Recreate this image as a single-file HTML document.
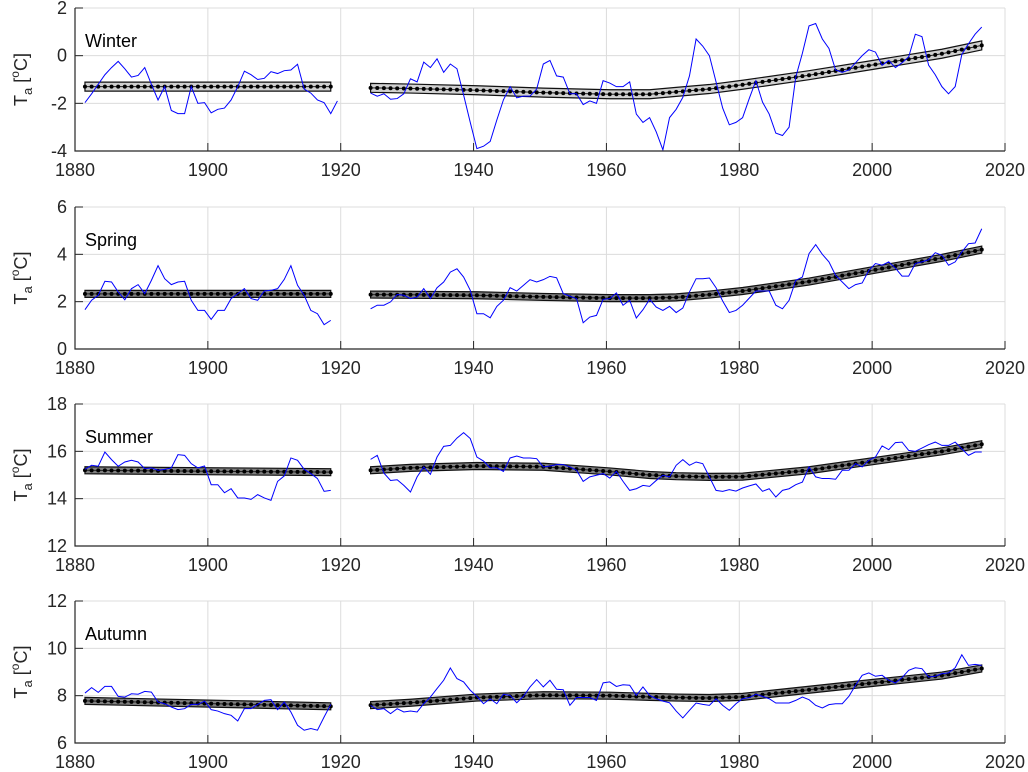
<!DOCTYPE html>
<html><head><meta charset="utf-8"><style>
html,body{margin:0;padding:0;background:#fff;}
svg{display:block;font-family:"Liberation Sans",sans-serif;}
</style></head><body>
<svg id="chart" width="1028" height="772" viewBox="0 0 1028 772" xmlns="http://www.w3.org/2000/svg"></svg>
<script>
const xTicks = [1880,1900,1920,1940,1960,1980,2000,2020];
const seasons = ["Winter","Spring","Summer","Autumn"];
const yTicksWinter = [2,0,-2,-4];
const yTicksSpring = [6,4,2,0];
const yTicksSummer = [18,16,14,12];
const yTicksAutumn = [12,10,8,6];
const seg1Start = 1881;
const seg2Start = 1924;
const winterA = [-1.97,-1.6,-1.2,-0.8,-0.5,-0.24,-0.55,-0.9,-0.83,-0.5,-1.2,-1.86,-1.3,-2.3,-2.43,-2.43,-1.3,-2.0,-1.97,-2.4,-2.25,-2.2,-1.86,-1.3,-0.65,-0.8,-1.0,-0.95,-0.67,-0.75,-0.63,-0.6,-0.36,-1.4,-1.57,-1.86,-1.97,-2.43,-1.9];
const winterB = [-1.57,-1.7,-1.6,-1.83,-1.8,-1.6,-0.97,-1.1,-0.27,-0.5,-0.13,-0.7,-0.35,-0.55,-1.65,-2.8,-3.9,-3.8,-3.6,-2.7,-1.85,-1.3,-1.77,-1.7,-1.7,-1.4,-0.35,-0.2,-0.85,-0.9,-1.6,-1.6,-2.05,-1.9,-2.0,-1.05,-1.15,-1.3,-1.3,-1.1,-2.45,-2.8,-2.6,-3.2,-3.95,-2.6,-2.25,-1.75,-0.85,0.7,0.4,0.0,-1.1,-2.2,-2.9,-2.8,-2.6,-1.8,-1.05,-1.95,-2.45,-3.25,-3.35,-3.0,-0.9,0.1,1.25,1.35,0.7,0.3,-0.6,-0.7,-0.6,-0.3,0.0,0.25,0.15,-0.4,-0.2,-0.5,-0.3,-0.05,0.9,0.8,-0.4,-0.8,-1.3,-1.6,-1.3,0.05,0.5,0.9,1.2];
const springA = [1.66,2.06,2.27,2.86,2.83,2.41,2.08,2.55,2.72,2.34,2.9,3.52,2.97,2.72,2.83,2.86,2.06,1.63,1.63,1.25,1.63,1.63,2.13,2.34,2.55,2.13,2.06,2.45,2.48,2.55,2.94,3.52,2.69,2.27,1.63,1.49,1.03,1.21];
const springB = [1.7,1.85,1.85,1.99,2.3,2.27,2.13,2.2,2.55,2.13,2.59,2.83,3.25,3.39,3.04,2.48,1.49,1.49,1.32,1.8,2.06,2.59,2.45,2.69,2.93,2.83,2.93,3.07,3.01,2.34,2.23,2.13,1.11,1.35,1.42,2.1,2.13,2.37,1.85,2.06,1.31,1.66,2.1,1.77,1.63,1.8,1.54,1.73,2.41,2.97,2.97,3.0,2.59,2.03,1.54,1.63,1.85,2.15,2.45,2.45,2.45,1.85,1.7,2.06,2.9,3.04,4.03,4.41,4.0,3.68,3.11,2.83,2.55,2.72,2.79,3.32,3.61,3.54,3.68,3.42,3.08,3.08,3.61,3.68,3.77,4.07,3.96,3.54,3.68,4.1,4.45,4.48,5.08];
const summerA = [15.24,15.41,15.37,15.97,15.65,15.37,15.55,15.62,15.55,15.27,15.3,15.2,15.24,15.3,15.86,15.83,15.48,15.3,15.38,14.59,14.59,14.25,14.42,14.03,14.03,13.97,14.17,14.03,13.93,14.73,14.96,15.72,15.62,15.24,15.06,14.85,14.31,14.35];
const summerB = [15.66,15.83,15.08,14.77,14.8,14.56,14.28,14.92,15.34,15.03,15.76,16.21,16.25,16.56,16.79,16.54,15.76,15.59,15.3,15.3,15.15,15.72,15.8,15.72,15.72,15.69,15.34,15.38,15.44,15.44,15.34,15.2,14.73,14.92,14.99,15.06,14.87,15.15,14.73,14.35,14.42,14.56,14.52,14.77,14.99,14.92,15.41,15.65,15.41,15.55,15.48,14.92,14.35,14.31,14.38,14.32,14.45,14.54,14.62,14.31,14.42,14.07,14.35,14.42,14.59,14.7,15.34,14.92,14.85,14.85,14.82,15.2,15.2,15.48,15.34,15.62,15.76,16.23,16.07,16.37,16.39,16.04,16.0,16.14,16.28,16.39,16.25,16.25,16.39,16.11,15.83,15.97,15.97];
const autumnA = [8.11,8.34,8.14,8.39,8.39,7.97,7.94,8.08,8.06,8.18,8.15,7.73,7.66,7.52,7.41,7.45,7.63,7.63,7.77,7.41,7.35,7.24,7.17,6.93,7.45,7.45,7.63,7.8,7.83,7.41,7.73,7.31,6.75,6.54,6.61,6.54,7.1,7.63];
const autumnB = [7.59,7.41,7.45,7.24,7.45,7.31,7.35,7.31,7.66,7.94,8.3,8.65,9.17,8.72,8.58,8.23,7.97,7.66,7.87,7.66,8.06,8.01,7.7,7.97,8.37,8.68,8.37,8.65,8.27,8.25,7.59,7.92,7.92,7.92,7.8,8.54,8.58,8.39,8.46,8.44,8.01,8.37,8.01,7.87,7.77,7.7,7.35,7.06,7.38,7.69,7.63,7.59,7.87,7.59,7.38,7.66,7.87,7.92,8.06,7.97,7.87,7.69,7.69,7.69,7.8,7.94,7.83,7.59,7.48,7.62,7.66,7.66,7.97,8.44,8.86,8.96,8.82,8.86,8.65,8.54,8.76,9.07,9.18,9.14,8.79,8.82,8.93,8.96,9.18,9.73,9.28,9.32,9.28];
const trendYearsA = [1881,1918];
const trendYearsB = [1924,1930,1940,1950,1960,1966,1970,1975,1980,1990,2000,2010,2016];
const winterTrendA = [-1.3,-1.3];
const winterTrendB = [-1.35,-1.38,-1.45,-1.55,-1.62,-1.62,-1.52,-1.4,-1.22,-0.82,-0.37,0.08,0.43];
const springTrendA = [2.33,2.33];
const springTrendB = [2.3,2.29,2.27,2.2,2.15,2.15,2.18,2.3,2.45,2.85,3.35,3.85,4.2];
const summerTrendA = [15.2,15.12];
const summerTrendB = [15.2,15.3,15.38,15.35,15.15,15.0,14.95,14.92,14.93,15.2,15.6,16.0,16.3];
const autumnTrendA = [7.78,7.55];
const autumnTrendB = [7.6,7.7,7.92,8.02,8.0,7.95,7.92,7.9,7.95,8.25,8.55,8.85,9.15];

const NS="http://www.w3.org/2000/svg";
const svg=document.getElementById('chart');
const X0=75,X1=1005;
function xs(y){return X0+(y-1880+0.5)/140*(X1-X0);}
function xt(y){return X0+(y-1880)/140*(X1-X0);}
function mk(tag,attrs,parent){const e=document.createElementNS(NS,tag);for(const k in attrs)e.setAttribute(k,attrs[k]);(parent||svg).appendChild(e);return e;}
const panels=[
 {top:8,bot:151,ticks:yTicksWinter,a:winterA,b:winterB,ta:winterTrendA,tb:winterTrendB,band:"#d0d0d0",hw:4.5},
 {top:207,bot:349,ticks:yTicksSpring,a:springA,b:springB,ta:springTrendA,tb:springTrendB,band:"#808080",hw:3.5},
 {top:404,bot:546,ticks:yTicksSummer,a:summerA,b:summerB,ta:summerTrendA,tb:summerTrendB,band:"#808080",hw:3.5},
 {top:601,bot:743,ticks:yTicksAutumn,a:autumnA,b:autumnB,ta:autumnTrendA,tb:autumnTrendB,band:"#808080",hw:3.5}];
panels.forEach((p,i)=>{
 const g=mk('g',{});
 
 
 const ymax=p.ticks[0],ymin=p.ticks[p.ticks.length-1];
 const ys=v=>p.bot-(v-ymin)/(ymax-ymin)*(p.bot-p.top);
 p.ticks.forEach(t=>{const l=mk('line',{x1:X0,x2:X1,y1:ys(t),y2:ys(t),stroke:'#dcdcdc','stroke-width':1},g);
  });
 xTicks.forEach(t=>{const l=mk('line',{x1:xt(t),x2:xt(t),y1:p.top,y2:p.bot,stroke:'#dcdcdc','stroke-width':1},g);
  });
 [[trendYearsA,p.ta],[trendYearsB,p.tb]].forEach(([yrs,vals])=>{
  const pts=yrs.map((y,k)=>[xs(y),ys(vals[k])]);
  const up=pts.map(q=>q[0]+','+(q[1]-p.hw)).join(' ');
  const dn=pts.slice().reverse().map(q=>q[0]+','+(q[1]+p.hw)).join(' ');
  const band=mk('polygon',{points:up+' '+dn,fill:p.band,stroke:'#111','stroke-width':1.2},g);
  
  const tl=mk('polyline',{points:pts.map(q=>q.join(',')).join(' '),fill:'none',stroke:'#222','stroke-width':1},g);
  
  for(let y=yrs[0];y<=yrs[yrs.length-1];y++){
   let k=0;while(k<yrs.length-2&&y>yrs[k+1])k++;
   const f=(y-yrs[k])/(yrs[k+1]-yrs[k]);const v=vals[k]+f*(vals[k+1]-vals[k]);
   const c=mk('circle',{cx:xs(y),cy:ys(v),r:2,fill:'#000'},g);
   
  }
 });
 [[seg1Start,p.a],[seg2Start,p.b]].forEach(([s,vals])=>{
  const pl=mk('polyline',{points:vals.map((v,k)=>xs(s+k)+','+ys(v)).join(' '),fill:'none',stroke:'#0000ff','stroke-width':1},g);
  
 });
 const ax=mk('path',{d:`M${X0},${p.top}V${p.bot}H${X1}`,fill:'none',stroke:'#262626','stroke-width':1.2},g);
 
 p.ticks.forEach(t=>{mk('line',{x1:X0,x2:X0+8,y1:ys(t),y2:ys(t),stroke:'#262626'},g);
  const tx=mk('text',{x:67,y:ys(t)+6,'text-anchor':'end','font-size':18,fill:'#262626'},g);tx.textContent=t;
  });
 xTicks.forEach(t=>{mk('line',{x1:xt(t),x2:xt(t),y1:p.bot,y2:p.bot-8,stroke:'#262626'},g);
  const tx=mk('text',{x:xt(t),y:p.bot+25,'text-anchor':'middle','font-size':18,fill:'#262626'},g);tx.textContent=t;
  });
 const ti=mk('text',{x:85,y:p.top+39,'font-size':18,fill:'#000'},g);ti.textContent=seasons[i];
 
 const cy=(p.top+p.bot)/2;
 const yl=mk('text',{x:0,y:0,'font-size':18,fill:'#262626','text-anchor':'middle',transform:`translate(27,${cy}) rotate(-90)`},g);
 
 yl.innerHTML='T<tspan font-size="13" dy="5">a</tspan><tspan dy="-5"> [</tspan><tspan font-size="12" dy="-8">o</tspan><tspan dy="8">C]</tspan>';
});
</script>
</body></html>
